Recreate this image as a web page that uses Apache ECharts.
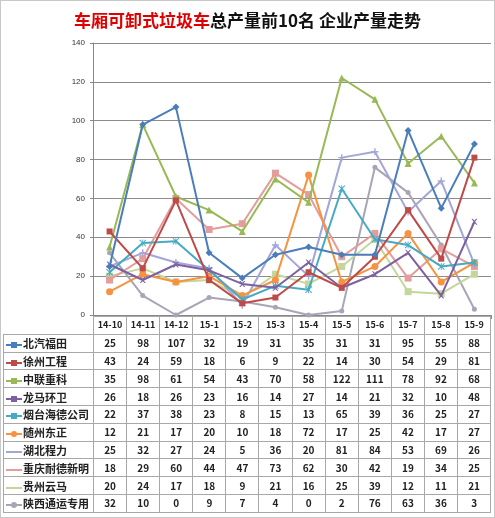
<!DOCTYPE html>
<html>
<head>
<meta charset="utf-8">
<script src="https://cdn.jsdelivr.net/npm/echarts@6/dist/echarts.min.js"></script>
<style>
  body { margin: 0; background: #fff; }
  #wrap { position: relative; width: 495px; height: 518px; box-sizing: border-box; border: 1px solid #c8c8c8; }
  #main { position: absolute; left: 0; top: 0; width: 493px; height: 516px; }
  #tbl { position: absolute; left: 2px; top: 315px; border-collapse: collapse; table-layout: fixed;
         font-family: "Noto Sans CJK SC", sans-serif; font-weight: bold; color: #222; }
  #tbl td { border: 1px solid #a8a8a8; text-align: center; padding: 0; font-size: 10px; height: 16.8px; line-height: 14px; }
  #tbl tr.head td { font-size: 9px; }
  #tbl td.name { text-align: left; font-size: 11px; white-space: nowrap; overflow: hidden; }
  .key { display: inline-block; position: relative; width: 16px; height: 10px; vertical-align: middle; margin: 0 1px 0 2px; }
  .key i { position: absolute; left: 0; right: 0; top: 4px; height: 2px; }
  .key b { position: absolute; left: 5px; top: 2px; width: 6px; height: 6px; }
</style>
</head>
<body>
<div id="wrap">
  <div id="main"></div>
  <table id="tbl"></table>
</div>
<script>
// categories (months)
var months = ['14-10', '14-11', '14-12', '15-1', '15-2', '15-3', '15-4', '15-5', '15-6', '15-7', '15-8', '15-9'];

// company names
var companies = ['北汽福田', '徐州工程', '中联重科', '龙马环卫', '烟台海德公司', '随州东正', '湖北程力', '重庆耐德新明', '贵州云马', '陕西通运专用'];

// production per company
var beiqiFutian = [25, 98, 107, 32, 19, 31, 35, 31, 31, 95, 55, 88];
var xuzhouGongcheng = [43, 24, 59, 18, 6, 9, 22, 14, 30, 54, 29, 81];
var zhonglianZhongke = [35, 98, 61, 54, 43, 70, 58, 122, 111, 78, 92, 68];
var longmaHuanwei = [26, 18, 26, 23, 16, 14, 27, 14, 21, 32, 10, 48];
var yantaiHaide = [22, 37, 38, 23, 8, 15, 13, 65, 39, 36, 25, 27];
var suizhouDongzheng = [12, 21, 17, 20, 10, 18, 72, 17, 25, 42, 17, 27];
var hubeiChengli = [25, 32, 27, 24, 5, 36, 20, 81, 84, 53, 69, 26];
var chongqingNaide = [18, 29, 60, 44, 47, 73, 62, 30, 42, 19, 34, 25];
var guizhouYunma = [20, 24, 17, 18, 9, 21, 16, 25, 39, 12, 11, 21];
var shaanxiTongyun = [32, 10, 0, 9, 7, 4, 0, 2, 76, 63, 36, 3];

// y axis ticks
var yTicks = [0, 20, 40, 60, 80, 100, 120, 140];

var seriesData = [beiqiFutian, xuzhouGongcheng, zhonglianZhongke, longmaHuanwei, yantaiHaide,
                  suizhouDongzheng, hubeiChengli, chongqingNaide, guizhouYunma, shaanxiTongyun];

var colors = ['#4a7ebb', '#be4b48', '#98b954', '#7d60a0', '#46aac5', '#f69240', '#a3a6d8', '#e49c9c', '#c3d69b', '#a8a5b6'];
var xPath = 'path://M0,0L2,0L5,3L8,0L10,0L6,5L10,10L8,10L5,7L2,10L0,10L4,5Z';
var starPath = 'path://M0,1L1,0L5,4L9,0L10,1L6,5L10,9L9,10L5,6L1,10L0,9L4,5ZM4.4,0L5.6,0L5.6,10L4.4,10Z';
var plusPath = 'path://M4,0L6,0L6,4L10,4L10,6L6,6L6,10L4,10L4,6L0,6L0,4L4,4Z';
var dashPath = 'path://M0,4L10,4L10,6L0,6Z';
var symbols = ['diamond', 'rect', 'triangle', xPath, starPath, 'circle', plusPath, dashPath, dashPath, 'circle'];
var symbolSizes = [7, 6, 7, 6, 7, 7, 7, 7, 7, 5];

var chart = echarts.init(document.getElementById('main'));

var series = companies.map(function (name, i) {
  return {
    name: name,
    type: 'line',
    data: seriesData[i],
    symbol: symbols[i],
    symbolSize: symbolSizes[i],
    showAllSymbol: true,
    lineStyle: { color: colors[i], width: 2 },
    itemStyle: { color: colors[i] },
    z: 2 + (10 - i)
  };
});

chart.setOption({
  animation: false,
  title: {
    text: '{r|车厢可卸式垃圾车}{k|总产量前10名 企业产量走势}',
    left: 'center',
    top: 6,
    textStyle: {
      rich: {
        r: { color: '#e00000', fontSize: 17, fontWeight: 'bold', fontFamily: 'Noto Sans CJK SC' },
        k: { color: '#111', fontSize: 17, fontWeight: 'bold', fontFamily: 'Noto Sans CJK SC' }
      }
    }
  },
  grid: { left: 92, right: 3, top: 42, bottom: 202 },
  xAxis: {
    type: 'category',
    data: months,
    boundaryGap: true,
    axisLine: { lineStyle: { color: '#888', width: 1 } },
    axisTick: { show: true, length: 4, lineStyle: { color: '#888' } },
    axisLabel: { show: false }
  },
  yAxis: {
    type: 'value',
    min: yTicks[0],
    max: yTicks[yTicks.length - 1],
    interval: 20,
    axisLine: { show: true, lineStyle: { color: '#888' } },
    axisTick: { show: true, length: 3, lineStyle: { color: '#888' } },
    axisLabel: { fontSize: 8, color: '#333', margin: 8, fontFamily: 'Liberation Sans' },
    splitLine: { lineStyle: { color: '#8c8c8c', width: 1 } }
  },
  series: series
});

// data table under the plot
var tbl = document.getElementById('tbl');
var html = '<colgroup><col style="width:90px">';
months.forEach(function () { html += '<col style="width:33.1px">'; });
html += '</colgroup><tr class="head"><td style="border-top:none;border-left:none"></td>';
months.forEach(function (m) { html += '<td>' + m + '</td>'; });
html += '</tr>';
companies.forEach(function (name, i) {
  var mark = '';
  if (i < 6 || i === 9) mark = '<b style="background:' + colors[i] + (symbols[i] === 'circle' ? ';border-radius:3px' : '') + '"></b>';
  html += '<tr><td class="name"><span class="key"><i style="background:' + colors[i] + '"></i>' + mark + '</span>' + name + '</td>';
  seriesData[i].forEach(function (v) { html += '<td>' + v + '</td>'; });
  html += '</tr>';
});
tbl.innerHTML = html;
</script>
</body>
</html>
